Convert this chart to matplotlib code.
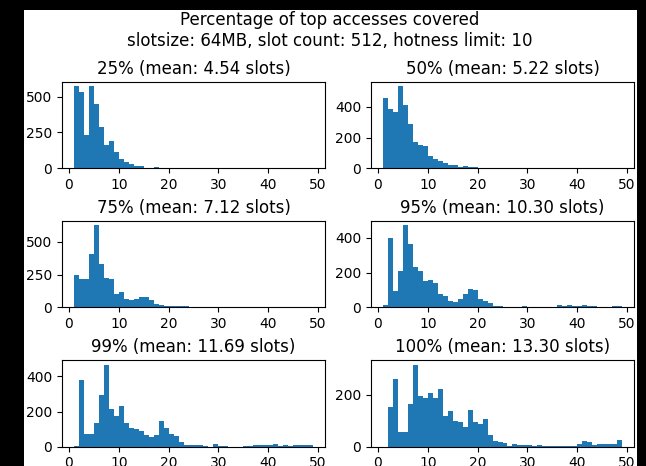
import numpy as np
import matplotlib
matplotlib.use("Agg")
import matplotlib.pyplot as plt
from matplotlib.patches import Rectangle

# slot count per bin (bin k = [k, k+1), k = 1..48)
slots = np.arange(1, 49)

pct_labels = ["25%", "50%", "75%", "95%", "99%", "100%"]
means = [4.54, 5.22, 7.12, 10.30, 11.69, 13.30]

counts_25 = [573, 530, 230, 573, 445, 285, 160, 190, 115, 65, 45, 28, 18, 17, 5, 5,
             10, 5, 4, 0, 4, 0, 0, 3, 0, 3, 0, 3, 3, 0, 0, 3, 0, 0, 0, 0,
             0, 0, 0, 0, 0, 3, 3, 3, 0, 0, 3, 0]
counts_50 = [455, 385, 367, 535, 411, 290, 171, 154, 143, 81, 59, 44, 33, 22, 20, 11,
             15, 9, 9, 0, 3, 3, 3, 3, 3, 3, 0, 3, 3, 3, 0, 0, 3, 0, 3, 0,
             0, 0, 0, 3, 0, 3, 3, 0, 0, 0, 0, 3]
counts_75 = [247, 215, 215, 404, 624, 328, 227, 220, 106, 119, 68, 56, 68, 76, 76, 56,
             30, 20, 13, 12, 10, 8, 12, 5, 3, 4, 4, 4, 4, 0, 4, 4, 0, 0, 0, 0,
             0, 0, 0, 0, 0, 0, 0, 0, 0, 0, 0, 5]
counts_95 = [13, 398, 93, 208, 472, 366, 232, 210, 150, 160, 143, 76, 67, 38, 32, 48,
             76, 105, 99, 48, 40, 23, 10, 10, 4, 4, 4, 4, 11, 4, 4, 4, 0, 4, 4, 15,
             10, 15, 10, 10, 15, 8, 11, 4, 4, 4, 10, 10]
counts_99 = [4, 377, 75, 75, 136, 292, 467, 213, 174, 230, 136, 108, 98, 89, 66, 53,
             64, 145, 104, 75, 62, 26, 11, 11, 11, 11, 6, 0, 13, 5, 5, 0, 0, 0, 4, 4,
             8, 8, 8, 8, 15, 6, 10, 4, 8, 8, 8, 8]
counts_100 = [0, 152, 261, 55, 55, 165, 317, 196, 187, 206, 187, 223, 119, 138, 101, 97,
              77, 142, 97, 88, 107, 46, 23, 19, 15, 1, 9, 5, 8, 8, 1, 5, 1, 1, 3, 3,
              1, 1, 3, 9, 23, 17, 5, 9, 9, 9, 9, 27]

all_counts = [counts_25, counts_50, counts_75, counts_95, counts_99, counts_100]

W, H = 646, 466
fig, axes = plt.subplots(3, 2, figsize=(W / 100, H / 100), dpi=100)
fig.patch.set_facecolor("black")
# white figure area inside the black border
fig.patches.append(Rectangle((24 / W, 0), (637 - 24) / W, 1 - 10 / H,
                             transform=fig.transFigure, facecolor="white",
                             edgecolor="none", zorder=-1))

fig.subplots_adjust(left=62 / W, right=634 / W, top=1 - 82 / H, bottom=1 - 446.7 / H,
                    wspace=0.175, hspace=0.615)

edges = np.arange(1, 50)
for ax, lab, m, c in zip(axes.flat, pct_labels, means, all_counts):
    ax.hist(slots + 0.5, bins=edges, weights=c, color="#1f77b4")
    ax.set_title(f"{lab} (mean: {m:.2f} slots)", fontsize=12)
    ax.set_xticks([0, 10, 20, 30, 40, 50])

fig.suptitle("Percentage of top accesses covered\n"
             "slotsize: 64MB, slot count: 512, hotness limit: 10",
             x=330 / W, y=1 - 11 / H, va="top", fontsize=12)

fig.savefig("out.png", dpi=100, facecolor=fig.get_facecolor())
